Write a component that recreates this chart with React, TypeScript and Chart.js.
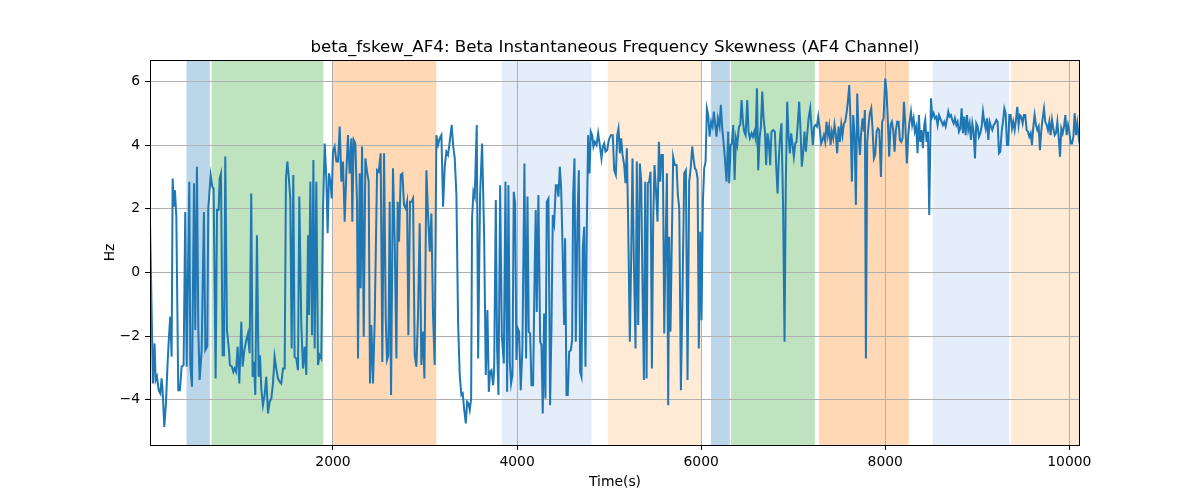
import { useEffect, useRef } from "react"
import { Chart, registerables } from "chart.js"

Chart.register(...registerables)

const TITLE = "beta_fskew_AF4: Beta Instantaneous Frequency Skewness (AF4 Channel)"
const X_LABEL = "Time(s)"
const Y_LABEL = "Hz"

const xTicks = [2000, 4000, 6000, 8000, 10000]
const yTicks = [-4, -2, 0, 2, 4, 6]

// shaded phases [start, end] in seconds
const spanStarts = [409, 681, 2000, 3834, 4986, 6106, 6323, 7279, 8515, 9366]
const spanEnds = [663, 1895, 3123, 4808, 6005, 6312, 7235, 8257, 9348, 10200]
const spanColors = [
  "rgba(31,119,180,0.3)",
  "rgba(44,160,44,0.3)",
  "rgba(255,127,14,0.3)",
  "rgba(174,199,232,0.32)",
  "rgba(255,187,120,0.3)",
  "rgba(31,119,180,0.3)",
  "rgba(44,160,44,0.3)",
  "rgba(255,127,14,0.3)",
  "rgba(174,199,232,0.32)",
  "rgba(255,187,120,0.3)",
]

// [time, skewness]
const seg1: [number, number][] = [
  [12, 1.59], [44, -3.49], [62, -2.23], [73, -3.38], [87, -3.27], [106, -3.7], [124, -3.8], [138, -3.33], [149, -3.7], [167, -4.85],
  [185, -4.12], [203, -2.86], [218, -2.02], [232, -1.39], [247, -2.65], [258, 2.95], [272, 2.06], [283, 2.58], [298, 1.75], [319, -3.7],
  [337, -3.7], [355, -2.96], [377, -2.91], [395, 1.9], [410, -2.96], [439, 2.85], [450, -2.91], [468, -3.59], [490, 2.8], [504, -1.81],
  [522, 3.32], [537, -1.81], [551, -3.38], [573, -2.44], [598, 1.9], [613, -2.44], [634, -2.33], [645, 2.0], [671, 3.05], [689, 2.69],
  [703, 2.63], [725, -3.33], [740, 1.96], [758, 1.96], [769, 2.95], [783, 3.1], [801, -2.6], [816, -2.6], [830, 3.64], [848, -1.81],
  [870, -2.44],
]

const seg2: [number, number][] = [
  [880, -2.91], [902, -2.96], [917, -3.12], [931, -3.02], [946, -3.12], [964, -2.34], [982, -3.49], [1004, -1.55], [1018, -2.96], [1040, -2.39],
  [1058, -2.13], [1076, -1.92], [1094, -2.54], [1112, 2.48], [1127, -3.28], [1141, -2.81], [1156, -3.85], [1174, 1.17], [1192, -3.28], [1207, -2.6],
  [1221, -3.64], [1239, -4.17], [1257, -3.85], [1275, -3.28], [1294, -4.43], [1312, -4.06], [1330, -3.96], [1348, -3.49], [1366, -2.65], [1384, -3.02],
  [1402, -3.33], [1420, -3.43], [1438, -3.49], [1457, -3.02], [1475, -3.02], [1489, 2.95], [1504, 3.48], [1518, 3.06], [1536, 2.32], [1551, -2.39],
  [1569, 3.06], [1583, -2.65], [1601, -2.7], [1620, -3.07], [1634, 2.38], [1656, -1.65], [1674, -3.02],
]

const seg3: [number, number][] = [
  [1692, -2.34], [1710, -3.22], [1729, 1.17], [1739, -1.34], [1754, 2.85], [1772, -1.97], [1787, 3.53], [1801, -2.39], [1819, 2.85], [1837, -2.91],
  [1855, -2.6], [1873, -2.7], [1892, 2.01], [1910, 4.05], [1928, 2.95], [1942, 1.23], [1957, 3.11], [1975, 2.8], [1986, 2.32], [2000, 3.79],
  [2018, 3.95], [2037, 3.48], [2055, 3.48], [2073, 4.58], [2091, 2.85], [2109, 3.48], [2127, 1.59], [2145, 3.11], [2163, 4.31], [2181, 3.11],
  [2200, 4.21], [2210, 1.59], [2225, 4.16], [2243, 4.05], [2261, 2.22], [2272, -2.7], [2290, 3.11], [2301, -0.5], [2316, 3.95], [2334, -2.02],
  [2352, 3.58], [2370, 3.16], [2388, 2.85], [2402, -3.49], [2417, -1.65], [2435, -3.49], [2453, -1.55], [2479, 3.21], [2497, 3.16], [2518, 3.74],
  [2536, -2.81], [2555, 3.74], [2573, -1.45], [2587, -2.75], [2602, -2.6], [2616, 2.22], [2631, -3.85], [2652, 3.27], [2671, 0.96], [2689, -2.7],
  [2703, 2.22], [2718, 0.96], [2736, 3.06], [2754, 3.11], [2772, 2.12], [2790, 2.01], [2805, 2.22], [2819, -1.97], [2837, 2.22], [2855, 2.22],
  [2870, 2.32], [2888, -2.6], [2906, -2.96], [2924, -1.34], [2942, 1.54], [2960, -2.91], [2979, -1.86], [2993, -3.33], [3015, 3.21], [3033, 1.8],
  [3051, 0.65], [3069, 1.85], [3087, -1.34], [3105, -2.91], [3123, 4.31], [3142, 4.0], [3160, 4.21], [3178, 4.31], [3196, 2.06], [3214, 3.32],
  [3232, 3.79], [3250, 3.69], [3268, 4.1], [3290, 4.63], [3305, 4.0],
]

const seg4: [number, number][] = [
  [3323, 3.58], [3341, 2.43], [3359, -1.55], [3377, -3.22], [3395, -3.85], [3410, -3.8], [3424, -4.27], [3443, -4.74], [3457, -4.06], [3472, -4.12],
  [3486, -4.32], [3501, -3.96], [3511, 1.7], [3526, 2.53], [3540, 2.38], [3562, 4.63], [3577, -2.7], [3598, 2.43], [3620, 4.05], [3642, 1.17],
  [3660, -3.22], [3678, -1.18], [3693, -3.75], [3707, -3.12], [3722, -3.07], [3740, -3.54], [3751, -3.07], [3769, 2.27], [3783, -2.39], [3798, -3.85],
  [3816, 2.74], [3834, -1.97], [3856, -2.86], [3874, 2.85], [3892, -3.75], [3906, 2.74], [3921, -2.81], [3935, -3.49], [3950, -3.22], [3964, 2.53],
  [3979, 2.17], [3993, -2.75], [4008, -1.76], [4022, -1.86], [4040, -3.7], [4058, -2.39], [4080, 3.42], [4098, -2.7], [4113, 2.38], [4127, -1.86],
  [4142, -1.92], [4156, -3.54], [4174, -3.54], [4193, 0.44], [4203, 1.96], [4214, -1.24], [4232, 2.43], [4251, -2.18], [4265, -2.28], [4279, -4.43],
  [4294, -1.29], [4308, -3.96], [4323, 2.22], [4341, 2.32], [4359, -4.17], [4374, -1.71], [4388, 1.8], [4403, 1.54], [4421, 2.74], [4435, 2.74],
  [4450, 2.38], [4464, 3.32], [4479, 2.64], [4493, 0.96], [4511, -1.65], [4522, 1.07], [4537, -3.85], [4551, -3.85], [4566, -2.49], [4584, -2.44],
  [4598, -2.13], [4609, 2.43], [4624, 3.58], [4638, -2.18], [4656, 1.59], [4671, 3.21], [4685, -3.12], [4700, -3.28], [4714, 0.75], [4729, 1.43],
  [4743, -2.96], [4758, 1.49], [4772, 4.31], [4787, 3.11], [4801, 4.42], [4816, 4.31], [4830, 3.95], [4845, 4.1], [4863, 4.0], [4881, 4.37],
  [4899, 4.0], [4917, 3.58], [4932, 3.95], [4946, 4.05], [4961, 3.79], [4979, 3.84], [4997, 4.16], [5019, 4.31], [5040, 4.31], [5055, 3.21],
]

const seg5: [number, number][] = [
  [5073, 3.06], [5088, 4.31], [5102, 4.52], [5117, 3.74], [5131, 4.21], [5146, 3.69], [5164, 3.37], [5178, 2.8], [5193, 3.9], [5207, 1.59],
  [5225, -2.18], [5240, 0.54], [5254, 3.58], [5269, 0.34], [5287, -2.39], [5301, 3.48], [5316, -1.65], [5334, 3.42], [5349, 2.85], [5363, -0.5],
  [5378, -3.38], [5392, 2.85], [5407, -3.33], [5421, 2.8], [5436, 2.85], [5450, 3.16], [5465, -3.02], [5479, 1.59], [5493, 3.37], [5508, 2.64],
  [5526, 1.59], [5541, 4.1], [5555, 2.85], [5570, 3.69], [5584, 3.69], [5599, -1.92], [5613, 0.75], [5628, 3.11], [5642, -4.17], [5653, 1.12],
  [5667, -1.86], [5682, 1.12], [5696, 3.63], [5714, 3.37], [5733, 3.37], [5747, 2.43], [5762, 2.01], [5780, -3.7], [5798, -0.5], [5816, 3.11],
  [5834, 3.21], [5852, -3.38], [5870, 2.85], [5888, 3.32], [5903, 3.95], [5917, 3.58], [5932, 3.27], [5946, 3.21], [5961, 2.95], [5975, -2.39],
  [5990, 1.28], [6004, -1.5], [6019, 2.22], [6033, 3.27], [6048, 3.48], [6062, 5.15], [6077, 4.94], [6091, 4.26], [6109, 4.73], [6124, 4.58],
  [6138, 5.05], [6153, 4.63], [6167, 4.26], [6182, 4.84], [6200, 4.58], [6214, 5.26], [6229, 4.52], [6243, 4.1], [6258, 3.58], [6276, 2.85],
  [6294, 4.42], [6305, 2.8], [6320, 4.0], [6334, 4.05], [6349, 4.63], [6363, 2.9], [6378, 4.21], [6392, 4.0], [6410, 4.58], [6425, 4.63],
  [6439, 5.41], [6454, 4.73], [6468, 4.42], [6483, 4.31], [6501, 5.41], [6515, 4.42], [6530, 4.21], [6548, 4.37], [6562, 4.26], [6577, 4.42],
  [6591, 4.21], [6606, 5.78], [6620, 3.21], [6635, 4.21], [6649, 4.58], [6664, 5.68], [6678, 4.84], [6693, 4.42],
]

const seg6: [number, number][] = [
  [6706, 3.37], [6721, 4.37], [6735, 4.1], [6750, 3.37], [6764, 4.42], [6783, 4.47], [6801, 4.42], [6815, 3.37], [6830, 2.48], [6844, 3.58],
  [6859, 4.31], [6873, 4.68], [6891, 1.91], [6906, -2.18], [6920, 2.85], [6935, 5.36], [6949, 4.31], [6964, 3.74], [6978, 4.37], [6993, 4.0],
  [7007, 3.63], [7022, 4.05], [7036, 4.1], [7051, 4.73], [7065, 5.36], [7080, 4.42], [7094, 3.32], [7109, 3.79], [7123, 4.42], [7138, 3.79],
  [7152, 4.31], [7167, 4.84], [7185, 5.15], [7199, 4.52], [7214, 4.0], [7228, 4.58], [7243, 4.63], [7257, 4.58], [7272, 4.89], [7290, 4.47],
  [7304, 4.05], [7319, 4.16], [7333, 4.31], [7348, 4.1], [7362, 4.73], [7377, 4.31], [7391, 4.58], [7406, 4.0], [7420, 4.42], [7435, 4.21],
  [7449, 4.63], [7464, 4.31], [7478, 3.74], [7493, 4.58], [7507, 4.1], [7522, 4.63], [7536, 4.31], [7551, 4.68], [7565, 4.73], [7580, 5.0],
  [7594, 5.36], [7609, 5.88], [7623, 4.73], [7638, 2.85], [7652, 4.94], [7667, 4.31], [7681, 2.12], [7696, 5.62], [7710, 4.31], [7725, 3.69],
  [7739, 4.42], [7754, 4.84], [7768, 4.42], [7779, 5.1], [7790, -2.7], [7804, 4.1], [7819, 4.63], [7833, 5.0], [7848, 5.15], [7862, 4.52],
  [7877, 3.58], [7891, 3.69], [7906, 4.42], [7920, 4.52], [7935, 4.47], [7953, 3.0], [7967, 4.73], [7982, 4.84], [8000, 6.09], [8014, 5.68],
  [8029, 4.73], [8043, 3.63], [8058, 4.63], [8072, 4.73], [8087, 4.47], [8101, 3.79], [8116, 4.47], [8130, 4.73], [8145, 4.73], [8159, 4.16],
  [8174, 4.1], [8188, 4.21], [8203, 5.36], [8217, 4.73], [8235, 3.42], [8250, 4.31], [8264, 4.73], [8279, 5.05], [8293, 4.63], [8308, 4.84],
  [8322, 4.42], [8337, 4.58], [8351, 3.74], [8366, 4.94], [8380, 4.1], [8395, 4.47], [8409, 3.9], [8424, 4.63],
]

const seg7: [number, number][] = [
  [8435, 4.79], [8449, 4.1], [8464, 4.42], [8478, 1.8], [8497, 5.47], [8511, 4.89], [8526, 5.0], [8540, 4.84], [8555, 4.89], [8569, 4.63],
  [8584, 4.94], [8598, 4.84], [8613, 4.73], [8627, 4.63], [8641, 4.73], [8656, 4.58], [8670, 4.79], [8685, 5.05], [8699, 4.89], [8714, 4.94],
  [8728, 4.79], [8743, 4.68], [8757, 4.84], [8772, 4.63], [8786, 4.73], [8801, 4.42], [8815, 4.52], [8830, 5.15], [8844, 4.37], [8859, 4.89],
  [8873, 4.31], [8888, 4.94], [8902, 4.47], [8917, 4.68], [8931, 4.16], [8946, 4.68], [8960, 4.42], [8975, 3.58], [8989, 4.68], [9004, 4.58],
  [9018, 4.26], [9033, 4.37], [9047, 4.58], [9062, 5.05], [9076, 4.73], [9091, 4.52], [9105, 4.84], [9120, 4.16], [9134, 4.73], [9149, 4.58],
  [9163, 4.47], [9178, 4.63], [9192, 4.68], [9207, 4.79], [9221, 4.73], [9236, 3.74], [9250, 3.79], [9265, 4.42], [9279, 4.73], [9294, 5.15],
  [9308, 5.0], [9323, 4.0], [9337, 4.0], [9348, 4.94], [9362, 4.94], [9377, 4.52], [9391, 4.73], [9406, 4.47], [9420, 4.79], [9435, 5.2],
  [9449, 4.63], [9464, 4.94], [9478, 4.89], [9493, 4.68], [9507, 4.94], [9522, 4.94], [9536, 4.47], [9551, 4.42], [9565, 4.26], [9580, 4.37],
  [9594, 4.0], [9609, 4.58], [9623, 4.94], [9638, 4.63], [9652, 4.47], [9667, 4.58], [9681, 3.84], [9696, 4.47], [9710, 4.84], [9725, 5.15],
  [9739, 4.73], [9754, 4.63], [9768, 4.47], [9783, 4.73], [9797, 4.31], [9812, 4.79], [9826, 4.52], [9841, 4.31], [9855, 4.37], [9870, 4.73],
  [9884, 4.26], [9899, 3.63], [9913, 4.52], [9928, 4.37], [9942, 4.58], [9957, 4.94], [9971, 4.31], [9986, 4.63], [10000, 4.42], [10015, 4.05],
  [10029, 4.05], [10044, 4.26], [10058, 5.0], [10073, 4.31], [10087, 4.68], [10102, 4.26], [10116, 4.52],
]

const FONT = "DejaVu Sans"

const spansPlugin = {
  id: "phaseSpans",
  beforeDraw(chart: any) {
    const { ctx, chartArea, scales } = chart
    ctx.save()
    ctx.beginPath()
    ctx.rect(chartArea.left, chartArea.top, chartArea.right - chartArea.left, chartArea.bottom - chartArea.top)
    ctx.clip()
    spanStarts.forEach((s, i) => {
      const x0 = scales.x.getPixelForValue(s)
      const x1 = scales.x.getPixelForValue(spanEnds[i])
      ctx.fillStyle = spanColors[i]
      ctx.fillRect(x0, chartArea.top, x1 - x0, chartArea.bottom - chartArea.top)
    })
    ctx.restore()
  },
}

const framePlugin = {
  id: "frameAndLabels",
  afterDraw(chart: any) {
    const { ctx, chartArea } = chart
    ctx.save()
    ctx.strokeStyle = "#000"
    ctx.lineWidth = 1
    ctx.strokeRect(chartArea.left + 0.5, chartArea.top + 0.5, chartArea.right - chartArea.left - 1, chartArea.bottom - chartArea.top)
    ctx.fillStyle = "#000"
    const cx = (chartArea.left + chartArea.right) / 2
    const cy = (chartArea.top + chartArea.bottom) / 2
    ctx.textAlign = "center"
    ctx.textBaseline = "alphabetic"
    ctx.font = `16.7px "${FONT}"`
    ctx.fillText(TITLE, cx, chartArea.top - 8)
    ctx.font = `13.9px "${FONT}"`
    ctx.fillText(X_LABEL, cx, 486)
    ctx.translate(114, cy)
    ctx.rotate(-Math.PI / 2)
    ctx.fillText(Y_LABEL, 0, 0)
    ctx.restore()
  },
}

export default function App() {
  const canvasRef = useRef<HTMLCanvasElement>(null)
  const chartRef = useRef<Chart | null>(null)

  useEffect(() => {
    document.body.style.margin = "0"
    if (!canvasRef.current) return
    if (chartRef.current) chartRef.current.destroy()

    const points = [...seg1, ...seg2, ...seg3, ...seg4, ...seg5, ...seg6, ...seg7].map(([t, v]) => ({ x: t, y: v }))

    chartRef.current = new Chart(canvasRef.current, {
      type: "line",
      data: {
        datasets: [
          {
            data: points,
            borderColor: "#1f77b4",
            borderWidth: 2,
            pointRadius: 0,
            tension: 0,
            fill: false,
          },
        ],
      },
      options: {
        animation: false,
        responsive: false,
        devicePixelRatio: 1,
        layout: { padding: { left: 0, top: 60, right: 120, bottom: 0 } },
        plugins: { legend: { display: false }, tooltip: { enabled: false } },
        scales: {
          x: {
            type: "linear",
            min: 12,
            max: 10116,
            afterBuildTicks: (scale: any) => {
              scale.ticks = xTicks.map((v) => ({ value: v }))
            },
            afterFit: (scale: any) => {
              scale.height = 55
            },
            ticks: {
              color: "#000",
              font: { family: FONT, size: 13.9 },
              padding: 4,
              maxRotation: 0,
              autoSkip: false,
              callback: (v: any) => String(v),
            },
            grid: { color: "#b0b0b0", lineWidth: 1, tickColor: "#000", tickLength: 5 },
            border: { display: false },
          },
          y: {
            type: "linear",
            min: -5.42,
            max: 6.67,
            afterBuildTicks: (scale: any) => {
              scale.ticks = yTicks.map((v) => ({ value: v }))
            },
            afterFit: (scale: any) => {
              scale.width = 150
            },
            ticks: {
              color: "#000",
              font: { family: FONT, size: 13.9 },
              padding: 5,
              autoSkip: false,
              callback: (v: any) => String(v).replace("-", "\u2212"),
            },
            grid: { color: "#b0b0b0", lineWidth: 1, tickColor: "#000", tickLength: 5 },
            border: { display: false },
          },
        },
      },
      plugins: [spansPlugin, framePlugin],
    })

    return () => {
      if (chartRef.current) {
        chartRef.current.destroy()
        chartRef.current = null
      }
    }
  }, [])

  return (
    <div style={{ width: 1200, height: 500 }}>
      <canvas ref={canvasRef} width={1200} height={500} style={{ display: "block" }} />
    </div>
  )
}
